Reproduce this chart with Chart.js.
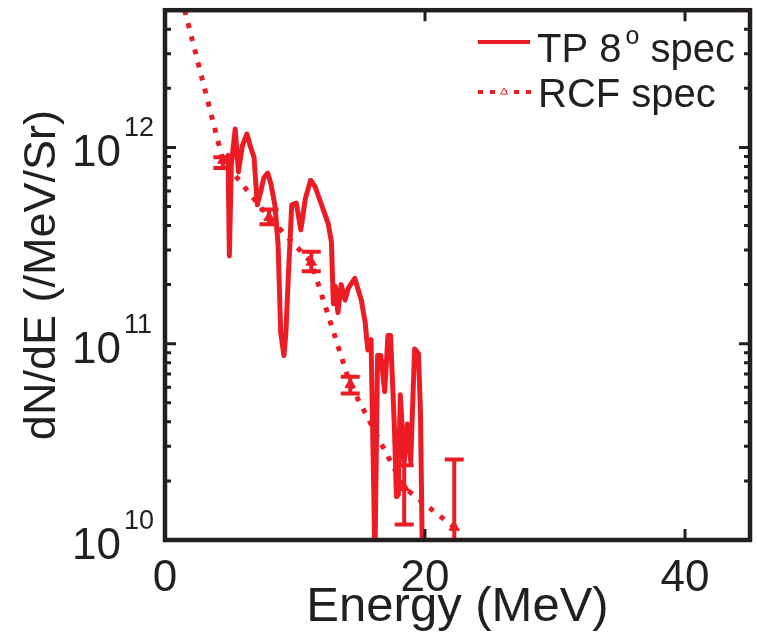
<!DOCTYPE html>
<html>
<head>
<meta charset="utf-8">
<script src="https://cdn.jsdelivr.net/npm/chart.js@4"></script>
<style>
  body { margin: 0; background: #fff; }
  canvas { display: block; }
</style>
</head>
<body>
<canvas id="chart" width="757" height="640"></canvas>
<script>
// TP 8 degree spectrum (MeV, /MeV/Sr)
const tpEnergy = [4.6, 4.85, 4.95, 5.1, 5.4, 5.65, 5.95, 6.3, 6.55, 6.85, 7.1, 7.4, 7.6, 7.9, 8.15, 8.45, 8.7, 8.9, 9.15, 9.3,
  9.5, 9.75, 10.1, 10.45, 10.8, 11.2, 11.55, 11.95, 12.55, 12.8, 12.95, 13.1, 13.3, 13.55, 13.85, 14.1, 14.6, 15.1, 15.4, 15.6,
  15.85, 16.15, 16.35, 16.6, 16.9, 17.15, 17.35, 17.65, 17.8, 17.95, 18.1, 18.4, 18.65, 18.9, 19.2, 19.5, 19.65, 19.8];
const tpValue = [8.4e11, 9.1e11, 2.8e11, 8.1e11, 1.24e12, 7.5e11, 1.02e12, 1.17e12, 1.02e12, 8.9e11, 5.1e11, 6.1e11, 7.0e11, 7.4e11, 6.5e11, 5.1e11, 3.2e11, 1.14e11, 8.7e10, 1.14e11,
  2.3e11, 5.1e11, 5.2e11, 3.8e11, 5.5e11, 6.8e11, 6.3e11, 5.3e11, 4.1e11, 3.3e11, 1.6e11, 1.96e11, 1.44e11, 2.0e11, 1.67e11, 1.92e11, 2.15e11, 1.67e11, 1.28e11, 9.3e10,
  1.05e11, 8e9, 8.7e10, 8.7e10, 5.7e10, 1.1e11, 1.1e11, 3.7e10, 1.66e10, 1.7e10, 5.5e10, 2.5e10, 3.9e10, 2.5e10, 9.4e10, 8.9e10, 4.5e10, 8e9];

// RCF spectrum with error bars
const rcfEnergy = [1.0, 4.45, 8.0, 11.25, 14.25, 18.4, 22.25];
const rcfValue = [6.8e12, 8.6e11, 4.4e11, 2.6e11, 6.2e10, 1.85e10, 1.16e10];
const rcfHigh = [null, 8.9e11, 4.83e11, 2.94e11, 6.79e10, 2.4e10, 2.57e10];
const rcfLow = [null, 7.85e11, 4.06e11, 2.34e11, 5.58e10, 1.2e10, 5e9];

const yExponents = [10, 11, 12];
const xTicks = [0, 20, 40];

const red = '#ed1c24';
const ink = '#231f20';
const fontFamily = '"Liberation Sans", Arial, Helvetica, sans-serif';

const tpPoints = tpEnergy.map((e, i) => ({ x: e, y: tpValue[i] }));
const rcfPoints = rcfEnergy.map((e, i) => ({ x: e, y: rcfValue[i] }));

const axesPlugin = {
  id: 'axesPlugin',
  afterDatasetsDraw(chart) {
    const { ctx, chartArea: a, scales: { x, y } } = chart;
    ctx.save();

    // error bars on RCF points
    ctx.beginPath();
    ctx.rect(a.left, a.top, a.right - a.left, a.bottom - a.top);
    ctx.clip();
    ctx.strokeStyle = red;
    ctx.lineWidth = 4;
    for (let i = 0; i < rcfEnergy.length; i++) {
      if (rcfHigh[i] === null) continue;
      const px = x.getPixelForValue(rcfEnergy[i]);
      const hi = y.getPixelForValue(rcfHigh[i]);
      const lo = y.getPixelForValue(rcfLow[i]);
      ctx.beginPath();
      ctx.moveTo(px, hi); ctx.lineTo(px, lo);
      ctx.moveTo(px - 9.5, hi); ctx.lineTo(px + 9.5, hi);
      ctx.moveTo(px - 9.5, lo); ctx.lineTo(px + 9.5, lo);
      ctx.stroke();
    }
    ctx.restore();

    ctx.save();
    ctx.strokeStyle = ink;
    ctx.lineWidth = 4.5;
    ctx.strokeRect(a.left, a.top, a.right - a.left, a.bottom - a.top);

    // inward ticks
    ctx.lineWidth = 3;
    ctx.beginPath();
    xTicks.forEach(v => {
      const px = x.getPixelForValue(v);
      if (px <= a.left + 2) return;
      ctx.moveTo(px, a.bottom); ctx.lineTo(px, a.bottom - 11);
      ctx.moveTo(px, a.top); ctx.lineTo(px, a.top + 11);
    });
    const minExp = Math.floor(Math.log10(y.min));
    const maxExp = Math.ceil(Math.log10(y.max));
    for (let e = minExp; e <= maxExp; e++) {
      for (let m = 1; m <= 9; m++) {
        const v = m * Math.pow(10, e);
        if (v <= y.min || v >= y.max) continue;
        const py = y.getPixelForValue(v);
        const len = m === 1 ? 11 : 6;
        ctx.moveTo(a.left, py); ctx.lineTo(a.left + len, py);
        ctx.moveTo(a.right, py); ctx.lineTo(a.right - len, py);
      }
    }
    ctx.stroke();

    // y tick labels with exponents
    ctx.fillStyle = ink;
    yExponents.forEach(p => {
      const py = y.getPixelForValue(Math.pow(10, p));
      ctx.font = '44px ' + fontFamily;
      ctx.textAlign = 'right';
      ctx.textBaseline = 'alphabetic';
      ctx.fillText('10', 121, py + 19);
      ctx.font = '27px ' + fontFamily;
      ctx.textAlign = 'left';
      ctx.fillText(String(p), 124, py - 11);
    });
    ctx.restore();
  },
  afterDraw(chart) {
    const { ctx } = chart;
    ctx.save();
    ctx.fillStyle = ink;
    ctx.textBaseline = 'alphabetic';
    ctx.textAlign = 'left';

    // legend row 1
    ctx.strokeStyle = red;
    ctx.lineWidth = 4;
    ctx.beginPath();
    ctx.moveTo(478, 42); ctx.lineTo(530, 42);
    ctx.stroke();
    ctx.font = '40px ' + fontFamily;
    ctx.fillText('TP 8', 537, 62);
    let cx = 537 + ctx.measureText('TP 8').width + 4;
    ctx.font = '25px ' + fontFamily;
    ctx.fillText('o', cx, 44);
    cx += ctx.measureText('o').width;
    ctx.font = '40px ' + fontFamily;
    ctx.fillText(' spec', cx, 62);

    // legend row 2
    ctx.setLineDash([5, 7]);
    ctx.lineWidth = 4;
    ctx.beginPath();
    ctx.moveTo(478, 92); ctx.lineTo(532, 92);
    ctx.stroke();
    ctx.setLineDash([]);
    ctx.fillStyle = '#fff';
    ctx.lineWidth = 1;
    ctx.beginPath();
    ctx.moveTo(504, 88); ctx.lineTo(507.5, 94); ctx.lineTo(500.5, 94); ctx.closePath();
    ctx.fill(); ctx.stroke();
    ctx.fillStyle = ink;
    ctx.fillText('RCF spec', 538, 107);
    ctx.restore();
  }
};

new Chart(document.getElementById('chart'), {
  type: 'scatter',
  data: {
    datasets: [
      {
        label: 'TP 8o spec',
        data: tpPoints,
        showLine: true,
        borderColor: red,
        borderWidth: 5,
        pointRadius: 0,
        tension: 0,
        borderJoinStyle: 'round'
      },
      {
        label: 'RCF spec',
        data: rcfPoints,
        showLine: true,
        borderColor: red,
        borderWidth: 5,
        borderDash: [5, 8.5],
        borderCapStyle: 'butt',
        pointStyle: 'triangle',
        pointRadius: 6,
        pointBackgroundColor: red,
        pointBorderColor: red,
        pointBorderWidth: 1,
        tension: 0
      }
    ]
  },
  options: {
    responsive: false,
    devicePixelRatio: 1,
    animation: false,
    events: [],
    layout: { padding: { top: 2, right: 2, left: 0, bottom: 0 } },
    plugins: {
      legend: { display: false },
      tooltip: { enabled: false }
    },
    scales: {
      x: {
        type: 'linear',
        position: 'bottom',
        min: 0,
        max: 45,
        grid: { display: false, drawTicks: false },
        border: { display: false },
        ticks: {
          stepSize: 20,
          includeBounds: false,
          autoSkip: false,
          maxRotation: 0,
          padding: 12,
          color: ink,
          font: { family: fontFamily, size: 44 }
        },
        title: {
          display: true,
          text: 'Energy (MeV)',
          color: ink,
          font: { family: fontFamily, size: 49 },
          padding: { top: 0, bottom: 3 }
        },
        afterFit: scale => { scale.height = 100; }
      },
      y: {
        type: 'logarithmic',
        position: 'left',
        min: 1e10,
        max: 5e12,
        grid: { display: false, drawTicks: false },
        border: { display: false },
        ticks: { autoSkip: false, callback: () => '' },
        title: {
          display: true,
          text: 'dN/dE (/MeV/Sr)',
          color: ink,
          font: { family: fontFamily, size: 45 },
          padding: { top: 16, bottom: 0 }
        },
        afterFit: scale => { scale.width = 165; }
      }
    }
  },
  plugins: [axesPlugin]
});
</script>
</body>
</html>
